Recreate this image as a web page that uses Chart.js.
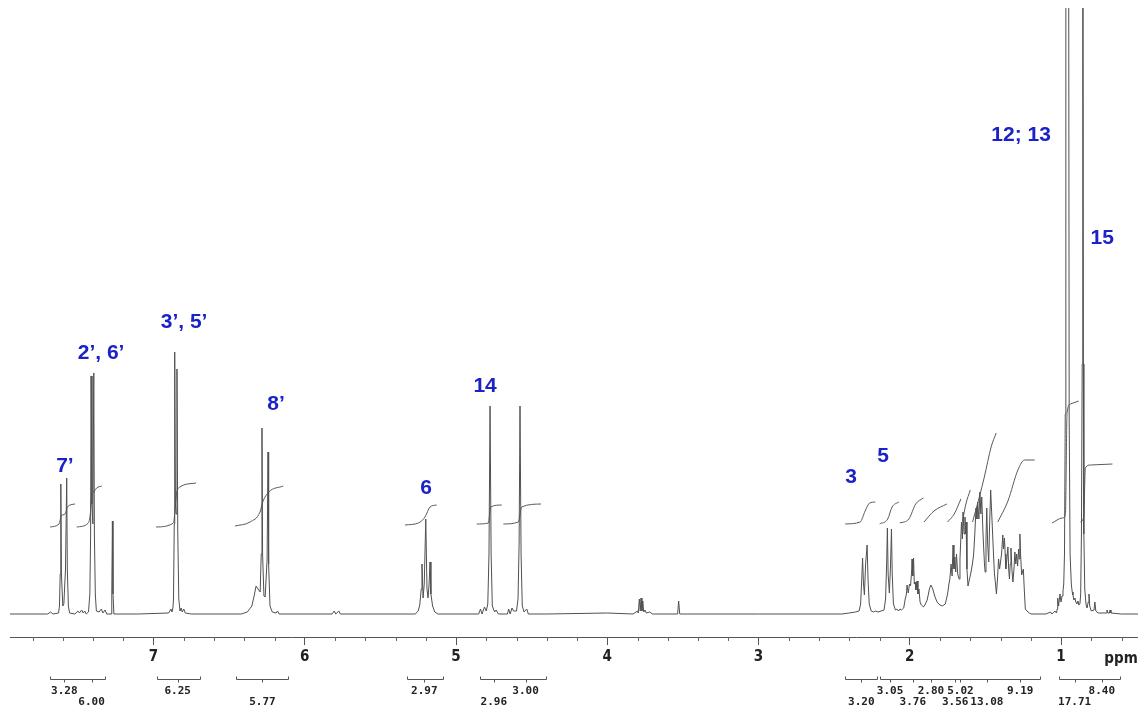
<!DOCTYPE html>
<html>
<head>
<meta charset="utf-8">
<script src="https://cdn.jsdelivr.net/npm/chart.js@4.4.1/dist/chart.umd.min.js"></script>
<style>
  html, body { margin: 0; padding: 0; background: #fff; }
  #wrap { width: 1138px; height: 708px; }
</style>
</head>
<body>
<div id="wrap"><canvas id="nmr" width="1138" height="708"></canvas></div>
<script>
// spectrum trace, [ppm, intensity] (intensity ~ px above baseline)
const aromaticSignals = [
  [7.95,0],[7.70,0],[7.68,2],[7.665,0],
  [7.628,1],[7.622,8],[7.617,40],[7.613,130],[7.609,40],[7.600,8],[7.593,10],[7.582,45],[7.574,136],[7.570,45],[7.563,8],[7.555,1],
  [7.52,0],[7.50,3],[7.49,1],[7.475,4],[7.465,1],[7.455,3],[7.445,0],
  [7.430,2],[7.421,20],[7.416,80],[7.413,238],[7.407,110],[7.401,90],[7.395,241],[7.391,80],[7.385,20],[7.378,3],
  [7.36,2],[7.345,5],[7.335,1],[7.32,4],[7.31,0],
  [7.281,0],[7.276,20],[7.272,93],[7.268,20],[7.262,0],
  [7.10,0],[6.90,1],[6.885,5],[6.878,2],[6.872,6],
  [6.868,15],[6.863,90],[6.860,262],[6.855,110],[6.851,100],[6.845,245],[6.840,85],[6.833,15],[6.825,3],[6.818,6],[6.81,2],[6.80,5],[6.79,1],[6.75,0]
];
const olefinicSignals = [
  [6.42,0],[6.38,2],[6.35,8],[6.335,18],[6.322,28],[6.305,24],[6.295,22],[6.288,60],[6.283,186],[6.279,60],[6.270,18],[6.262,17],
  [6.249,55],[6.243,162],[6.239,50],[6.230,8],[6.215,2],[6.19,1],[6.18,3],[6.17,0],
  [5.82,0],[5.805,3],[5.795,0],[5.775,3],[5.765,0],
  [5.27,0],[5.25,3],[5.24,9],[5.230,25],[5.225,50],[5.218,16],[5.210,30],[5.200,95],[5.192,25],[5.185,16],[5.178,30],[5.172,52],[5.166,20],[5.155,8],[5.14,2],[5.12,0],
  [4.85,0],[4.838,5],[4.828,0],[4.812,7],[4.800,3],[4.790,10],[4.782,60],[4.775,208],[4.768,60],[4.760,8],[4.745,2],[4.735,4],[4.72,0],
  [4.66,0],[4.652,5],[4.642,0],[4.630,6],[4.620,3],[4.600,3],[4.590,15],[4.583,70],[4.577,208],[4.570,60],[4.562,8],[4.55,2],[4.532,5],[4.522,0],
  [4.4,0],[4.0,1],[3.83,0],[3.80,3],[3.795,1],[3.788,15],[3.782,3],[3.777,16],[3.771,3],[3.765,13],[3.759,2],[3.750,4],[3.742,1],[3.72,2],[3.70,0],
  [3.535,0],[3.528,13],[3.521,0],[3.0,0]
];
const aliphaticSignals = [
  [2.45,0],[2.40,1],[2.36,2],
  [2.335,3],[2.325,10],[2.316,40],[2.312,56],[2.306,30],[2.300,19],[2.292,50],[2.282,69],[2.276,35],[2.268,10],[2.255,3],[2.24,2],[2.225,3],[2.21,2],[2.19,3],
  [2.170,4],[2.160,15],[2.153,50],[2.148,86],[2.143,40],[2.135,21],[2.128,45],[2.121,85],[2.116,40],[2.108,10],[2.095,4],[2.085,5],[2.075,3],[2.065,5],[2.055,4],
  [2.04,6],[2.030,15],[2.022,20],[2.018,29],[2.010,21],[2.002,30],[1.995,28],[1.988,42],[1.985,55],[1.980,38],[1.975,56],[1.970,30],[1.965,32],[1.959,24],[1.952,33],[1.946,20],[1.939,25],[1.932,12],[1.924,9],
  [1.91,7],[1.90,9],[1.885,14],[1.870,25],[1.861,29],[1.850,26],[1.835,18],[1.82,12],[1.80,9],[1.785,8],[1.765,10],[1.750,20],
  [1.741,30],[1.735,35],[1.727,50],[1.720,38],[1.714,69],[1.708,45],[1.702,57],[1.696,42],[1.691,60],[1.683,40],[1.674,35],[1.668,55],[1.658,92],[1.652,75],[1.648,102],[1.641,80],[1.635,97],[1.631,80],[1.628,92],[1.622,45],
  [1.615,28],[1.605,35],[1.595,42],[1.586,50],[1.578,59],[1.570,80],[1.562,106],[1.556,95],[1.551,112],[1.543,95],[1.536,122],[1.530,100],[1.524,117],[1.517,85],[1.511,65],[1.506,50],[1.502,42],
  [1.496,75],[1.491,106],[1.485,70],[1.478,52],[1.472,90],[1.465,124],[1.458,100],[1.451,76],[1.445,55],[1.440,40],[1.433,30],[1.427,20],
  [1.420,35],[1.413,55],[1.406,45],[1.400,52],[1.393,60],[1.385,79],[1.380,65],[1.374,76],[1.369,60],[1.365,45],[1.358,55],[1.351,67],[1.346,45],[1.341,35],[1.336,50],[1.331,66],[1.325,45],
  [1.318,32],[1.311,45],[1.305,62],[1.299,50],[1.293,60],[1.287,48],[1.280,65],[1.276,55],[1.272,80],[1.266,55],[1.260,39],[1.255,42],[1.249,45],[1.243,25],[1.236,5],[1.225,3],[1.21,1],[1.198,0]
];
const methylSignals = [
  [1.10,0],[1.07,2],[1.06,0],[1.04,3],[1.03,1],
  [1.025,5],[1.022,16],[1.016,8],[1.007,20],[1.000,12],[0.993,18],[0.987,23],[0.982,30],
  [0.977,60],[0.972,200],[0.968,900],[0.962,700],[0.955,700],[0.951,900],[0.946,200],[0.940,60],
  [0.932,30],[0.926,22],[0.921,19],[0.915,14],[0.908,16],[0.902,12],[0.895,10],[0.888,13],[0.882,9],[0.875,10],
  [0.870,20],[0.865,80],[0.860,250],[0.856,900],[0.852,250],[0.849,80],[0.843,25],[0.835,10],[0.828,6],[0.820,12],[0.815,20],[0.810,8],[0.800,3],
  [0.782,4],[0.776,12],[0.770,3],[0.755,1],[0.70,1],[0.696,4],[0.690,1],[0.680,1],[0.676,4],[0.670,1],[0.60,0],[0.49,0]
];

// integral traces drawn over each multiplet, [ppm, level]
const integralCurves = [
  [[7.684,87],[7.625,90],[7.617,94],[7.611,98],[7.585,100],[7.577,103],[7.570,107],[7.519,110]],
  [[7.508,87],[7.431,91],[7.418,100],[7.409,117],[7.395,122],[7.376,126],[7.342,128]],
  [[6.983,87],[6.869,91],[6.847,121],[6.825,127],[6.719,131]],
  [[6.461,88],[6.362,92],[6.296,102],[6.278,112],[6.238,122],[6.142,128]],
  [[5.337,89],[5.249,91],[5.205,97],[5.172,107],[5.128,109]],
  [[4.863,90],[4.786,91],[4.771,107],[4.698,109]],
  [[4.687,90],[4.588,92],[4.566,107],[4.438,110]],
  [[2.427,90],[2.328,92],[2.295,103],[2.265,111],[2.228,112]],
  [[2.199,90],[2.146,95],[2.117,107],[2.072,112]],
  [[2.066,91],[2.006,95],[1.961,110],[1.910,116]],
  [[1.906,92],[1.840,103],[1.755,110]],
  [[1.751,92],[1.706,100],[1.662,115]],
  [[1.651,93],[1.629,110],[1.600,124]],
  [[1.585,92],[1.540,117],[1.507,137],[1.462,167],[1.429,181]],
  [[1.418,92],[1.351,113],[1.285,144],[1.241,154],[1.174,154]],
  [[1.059,91],[0.993,96],[0.971,99],[0.960,201],[0.938,210],[0.883,213]],
  [[0.872,92],[0.850,97],[0.839,146],[0.806,149],[0.660,150]]
];

// assignments
const peakLabels  = ['7\u2019', '2\u2019, 6\u2019', '3\u2019, 5\u2019', '8\u2019', '6', '14', '3', '5', '12; 13', '15'];
const labelPpm    = [7.586, 7.347, 6.798, 6.190, 5.198, 4.808, 2.388, 2.177, 1.264, 0.728];
const labelHeight = [148, 261, 292, 210, 126, 228, 137, 158, 479, 376];

// integral values printed under the axis
const integralValues = ['3.28','6.00','6.25','5.77','2.97','2.96','3.00','3.20','3.05','3.76','2.80','3.56','5.02','13.08','9.19','17.71','8.40'];
const integralPpm    = [7.59, 7.41, 6.84, 6.28, 5.21, 4.75, 4.54, 2.32, 2.13, 1.98, 1.86, 1.70, 1.665, 1.49, 1.27, 0.91, 0.73];
const integralRow    = [0, 1, 0, 1, 0, 1, 0, 1, 0, 1, 0, 1, 0, 1, 0, 1, 0];
const bracketRanges  = [[7.684,7.321],[6.974,6.693],[6.455,6.114],[5.321,5.089],[4.843,4.405],[2.428,2.217],[2.197,1.139],[1.013,0.610]];

const isMajor = v => Math.abs(v - Math.round(v)) < 1e-6;
const toPoints = arr => arr.map(p => ({ x: p[0], y: p[1] }));

const annotate = {
  id: 'annotate',
  afterDatasetsDraw(chart) {
    const { ctx, scales: { x, y } } = chart;
    ctx.save();
    ctx.fillStyle = '#1a22c8';
    ctx.font = 'bold 21px "Liberation Sans", Arial, sans-serif';
    ctx.textAlign = 'center';
    ctx.textBaseline = 'middle';
    peakLabels.forEach((t, i) => {
      ctx.fillText(t, x.getPixelForValue(labelPpm[i]), y.getPixelForValue(labelHeight[i]));
    });
    ctx.restore();
  },
  afterDraw(chart) {
    const { ctx, chartArea, scales: { x } } = chart;
    const base = chartArea.bottom;
    ctx.save();
    ctx.strokeStyle = '#666';
    ctx.lineWidth = 1;
    // short minor ticks
    x.ticks.forEach(t => {
      if (isMajor(t.value)) return;
      const px = Math.round(x.getPixelForValue(t.value)) + 0.5;
      ctx.beginPath();
      ctx.moveTo(px, base);
      ctx.lineTo(px, base + 4);
      ctx.stroke();
    });
    ctx.fillStyle = '#222';
    ctx.font = 'bold 15px "DejaVu Sans Condensed", "DejaVu Sans", sans-serif';
    ctx.textAlign = 'center';
    ctx.textBaseline = 'middle';
    ctx.fillText('ppm', chartArea.right - 17, base + 22);

    // integral brackets
    const by = base + 42.5;
    ctx.strokeStyle = '#555';
    bracketRanges.forEach(r => {
      const a = Math.round(x.getPixelForValue(r[0]));
      const b = Math.round(x.getPixelForValue(r[1]));
      ctx.beginPath();
      ctx.moveTo(a + 0.5, by - 3);
      ctx.lineTo(a + 0.5, by);
      ctx.lineTo(b + 0.5, by);
      ctx.lineTo(b + 0.5, by - 3);
      ctx.stroke();
    });
    integralPpm.forEach(p => {
      const px = Math.round(x.getPixelForValue(p)) + 0.5;
      ctx.beginPath();
      ctx.moveTo(px, by);
      ctx.lineTo(px, by + 3);
      ctx.stroke();
    });
    ctx.fillStyle = '#222';
    ctx.font = 'bold 11px "DejaVu Sans Mono", monospace';
    integralValues.forEach((v, i) => {
      ctx.fillText(v, x.getPixelForValue(integralPpm[i]), base + 54 + integralRow[i] * 11);
    });
    ctx.restore();
  }
};

const spectrum = [...aromaticSignals, ...olefinicSignals, ...aliphaticSignals, ...methylSignals];

const datasets = [{
  data: toPoints(spectrum),
  borderColor: '#505050',
  borderWidth: 1,
  pointRadius: 0,
  tension: 0
}].concat(integralCurves.map(c => ({
  data: toPoints(c),
  borderColor: '#5a5a5a',
  borderWidth: 1,
  pointRadius: 0,
  cubicInterpolationMode: 'monotone'
})));

new Chart(document.getElementById('nmr'), {
  type: 'line',
  data: { datasets },
  options: {
    responsive: false,
    animation: false,
    devicePixelRatio: 1,
    layout: { padding: { left: 10, right: 0, top: 8, bottom: 0 } },
    plugins: { legend: { display: false }, tooltip: { enabled: false } },
    scales: {
      x: {
        type: 'linear',
        reverse: true,
        min: 0.491,
        max: 7.949,
        afterFit: s => { s.height = 71; },
        border: { color: '#555', width: 1 },
        grid: {
          drawOnChartArea: false,
          tickLength: 8,
          color: c => isMajor(c.tick.value) ? '#555' : 'rgba(0,0,0,0)',
          tickColor: c => isMajor(c.tick.value) ? '#555' : 'rgba(0,0,0,0)'
        },
        ticks: {
          stepSize: 0.2,
          includeBounds: false,
          autoSkip: false,
          maxRotation: 0,
          padding: 3,
          color: '#222',
          font: { family: '"DejaVu Sans Condensed", "DejaVu Sans", sans-serif', size: 15, weight: 'bold' },
          callback: v => isMajor(v) ? String(Math.round(v)) : ''
        }
      },
      y: { display: false, min: -23, max: 606 }
    }
  },
  plugins: [annotate]
});
</script>
</body>
</html>
